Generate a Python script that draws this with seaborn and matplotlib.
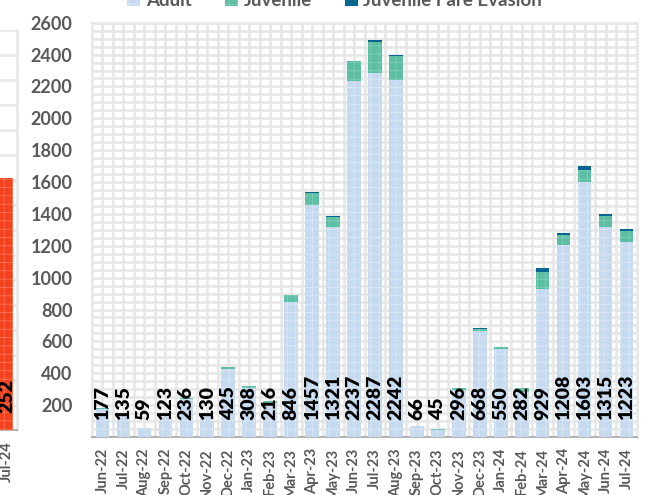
# Stacked monthly bars (Adult / Juvenile / Juvenile Fare Evasion) with an Excel-like grid

import numpy as np
import pandas as pd
import seaborn as sns
import matplotlib.pyplot as plt
from matplotlib.patches import Patch

months = ['Jun-22', 'Jul-22', 'Aug-22', 'Sep-22', 'Oct-22', 'Nov-22', 'Dec-22',
          'Jan-23', 'Feb-23', 'Mar-23', 'Apr-23', 'May-23', 'Jun-23', 'Jul-23',
          'Aug-23', 'Sep-23', 'Oct-23', 'Nov-23', 'Dec-23', 'Jan-24', 'Feb-24',
          'Mar-24', 'Apr-24', 'May-24', 'Jun-24', 'Jul-24']
adult = [177, 135, 59, 123, 236, 130, 425, 308, 216, 846, 1457, 1321, 2237, 2287,
         2242, 66, 45, 296, 668, 550, 282, 929, 1208, 1603, 1315, 1223]
juvenile = [5, 0, 0, 5, 10, 0, 15, 10, 10, 44, 75, 60, 125, 195,
            150, 0, 3, 12, 8, 12, 23, 105, 60, 70, 72, 68]
fare_evasion = [0, 0, 0, 0, 0, 0, 0, 0, 0, 0, 8, 5, 0, 10,
                8, 0, 0, 0, 10, 0, 0, 28, 15, 30, 10, 12]

# the neighbouring chart that is cut off on the left edge
left_month = ['Jul-24']
left_value = [252]

sns.set_style('white')
plt.rcParams['font.family'] = ['Lato', 'DejaVu Sans']
plt.rcParams['hatch.linewidth'] = 0.45

grey = '#595959'
grid_c = '#e6e6e6'
c_adult, h_adult = '#c6daef', '#dfe9f6'
c_juv, h_juv = '#5cbfa3', '#86d1bb'
c_fe = '#07668f'

df = pd.DataFrame({'month': months, 'adult': adult,
                   'juvenile': juvenile, 'fe': fare_evasion})
df['adult_juv'] = df['adult'] + df['juvenile']
df['total'] = df['adult_juv'] + df['fe']

fig = plt.figure(figsize=(6.46, 4.95), dpi=100)
ax = fig.add_axes([92 / 646, 58 / 495, 545 / 646, 414.3 / 495])

# layered: total first, then adult+juvenile, then adult on top
layers = [('total', c_fe, None, None),
          ('adult_juv', c_juv, h_juv, '++'),
          ('adult', c_adult, h_adult, '++')]
for col, fc, hc, hatch in layers:
    n0 = len(ax.patches)
    sns.barplot(data=df, x='month', y=col, color=fc, saturation=1,
                width=0.65, ax=ax, zorder=3)
    for p in ax.patches[n0:]:
        p.set_linewidth(0)
        if hatch:
            p.set_hatch(hatch)
            p.set_edgecolor(hc)

# value labels near the base
for i, v in enumerate(adult):
    ax.annotate(str(v), (i, 0), xytext=(0, 12), textcoords='offset points',
                rotation=90, ha='center', va='bottom', fontsize=14,
                fontweight='heavy', color='black', zorder=5)

ax.set_ylim(0, 2600)
ax.set_xlim(-0.5, len(months) - 0.5)
ax.set_yticks(range(200, 2601, 200))
ax.set_yticks(np.arange(0, 2601, 50), minor=True)
ax.set_xticks(np.arange(0.5, len(months) - 0.5, 1), minor=True)
ax.grid(True, which='both', color=grid_c, linewidth=1.8, zorder=0)
ax.set_axisbelow(True)
ax.set_xlabel('')
ax.set_ylabel('')
ax.tick_params(axis='both', which='both', length=0)
ax.tick_params(axis='y', pad=14, labelsize=13, labelcolor=grey)
ax.tick_params(axis='x', pad=8, labelsize=10.5, labelcolor=grey, rotation=90)
for lab in ax.get_xticklabels() + ax.get_yticklabels():
    lab.set_fontweight('bold')
for s in ['left', 'right', 'top']:
    ax.spines[s].set_color(grid_c)
    ax.spines[s].set_linewidth(1.8)
ax.spines['bottom'].set_color('#a6a6a6')
ax.spines['bottom'].set_linewidth(1.2)

# partial chart at the left edge
axl = fig.add_axes([-4 / 646, 65 / 495, 21 / 646, 400 / 495])
n0 = len(axl.patches)
sns.barplot(x=left_month, y=left_value, color='#f4421d', saturation=1,
            width=0.62, ax=axl, zorder=3)
for p in axl.patches[n0:]:
    p.set_linewidth(0)
    p.set_hatch('++')
    p.set_edgecolor('#ff8266')
axl.annotate(str(left_value[0]), (0, 0), xytext=(0, 12), textcoords='offset points',
             rotation=90, ha='center', va='bottom', fontsize=14,
             fontweight='heavy', color='black', zorder=5)
axl.set_ylim(0, 400)
axl.set_xlim(-0.5, 0.5)
axl.set_yticks(np.arange(0, 401, 25))
axl.set_yticklabels([])
axl.yaxis.grid(True, color=grid_c, linewidth=1.8, zorder=0)
axl.set_axisbelow(True)
axl.tick_params(axis='both', length=0)
axl.tick_params(axis='x', pad=8, labelsize=10.5, labelcolor=grey, rotation=90)
for lab in axl.get_xticklabels():
    lab.set_fontweight('bold')
for s in ['left', 'top']:
    axl.spines[s].set_visible(False)
axl.spines['right'].set_color(grid_c)
axl.spines['right'].set_linewidth(1.8)
axl.spines['bottom'].set_color('#a6a6a6')
axl.spines['bottom'].set_linewidth(1.2)

handles = [Patch(facecolor=c_adult, edgecolor=h_adult, hatch='++', linewidth=0),
           Patch(facecolor=c_juv, edgecolor=h_juv, hatch='++', linewidth=0),
           Patch(facecolor=c_fe, linewidth=0)]
leg = fig.legend(handles, ['Adult', 'Juvenile', 'Juvenile Fare Evasion'],
                 loc='center', bbox_to_anchor=(0.518, 0.998), ncol=3,
                 frameon=False, fontsize=13.5, handlelength=0.7,
                 handleheight=0.7, handletextpad=0.3, columnspacing=1.75)
for t in leg.get_texts():
    t.set_color(grey)
    t.set_fontweight('bold')

fig.savefig('out.png', dpi=100)
